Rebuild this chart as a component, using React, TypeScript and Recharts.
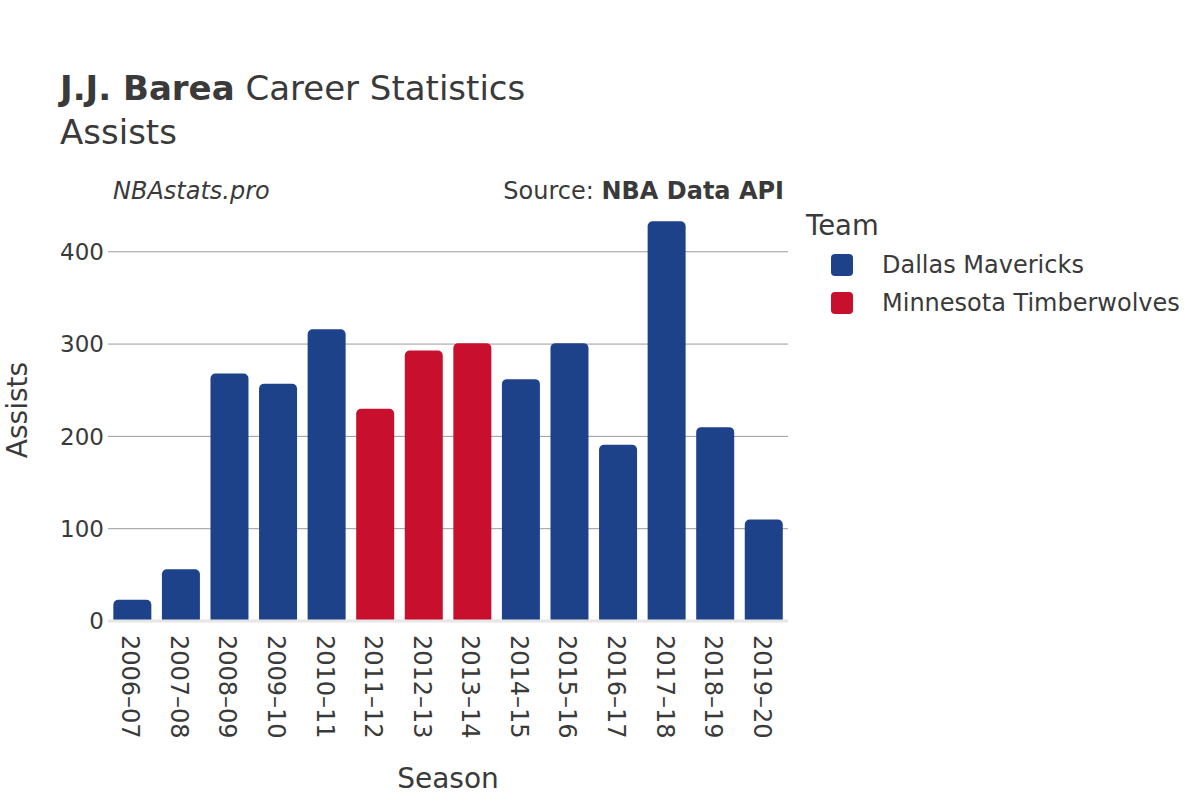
import { BarChart, Bar, XAxis, YAxis, CartesianGrid, ReferenceLine } from "recharts";

const seasons = [
  "2006–07", "2007–08", "2008–09", "2009–10", "2010–11", "2011–12", "2012–13",
  "2013–14", "2014–15", "2015–16", "2016–17", "2017–18", "2018–19", "2019–20",
];
const dallas = [23, 56, 268, 257, 316, null, null, null, 262, 301, 191, 433, 210, 110];
const minnesota = [null, null, null, null, null, 230, 293, 301, null, null, null, null, null, null];
const yTicks = [0, 100, 200, 300, 400];

const teams = [
  { key: "dallas", name: "Dallas Mavericks", color: "#1D428A" },
  { key: "minnesota", name: "Minnesota Timberwolves", color: "#C8102E" },
];

const data = seasons.map((s, i) => ({ season: s, dallas: dallas[i], minnesota: minnesota[i] }));

const FONT = "'DejaVu Sans', sans-serif";
const TEXT = "#3a3a3a";

function SeasonTick(props: any) {
  const { x, y, payload } = props;
  return (
    <text
      transform={`translate(${x - 2},${y}) rotate(90)`}
      textAnchor="start"
      dominantBaseline="central"
      fontSize={24}
      fontFamily={FONT}
      fill={TEXT}
    >
      {payload.value}
    </text>
  );
}

function TeamLegend() {
  return (
    <div style={{ position: "absolute", left: 806, top: 209, fontFamily: FONT, color: TEXT }}>
      <div style={{ fontSize: 27.5, marginBottom: 5, whiteSpace: "nowrap" }}>Team</div>
      {teams.map((t) => (
        <div key={t.key} style={{ display: "flex", alignItems: "center", height: 38, marginLeft: 25 }}>
          <span style={{ width: 22, height: 22, borderRadius: 4, background: t.color, display: "inline-block" }} />
          <span style={{ fontSize: 24, marginLeft: 29, whiteSpace: "nowrap" }}>{t.name}</span>
        </div>
      ))}
    </div>
  );
}

export default function App() {
  return (
    <div style={{ position: "absolute", left: 0, top: 0, width: 1200, height: 800, background: "#fff", fontFamily: FONT, color: TEXT }}>
      <div style={{ position: "absolute", left: 60, top: 68, fontSize: 34, whiteSpace: "nowrap" }}>
        <b>J.J. Barea</b> Career Statistics
      </div>
      <div style={{ position: "absolute", left: 60, top: 112, fontSize: 34 }}>Assists</div>
      <div style={{ position: "absolute", left: 113, top: 177, fontSize: 24, fontStyle: "italic" }}>NBAstats.pro</div>
      <div style={{ position: "absolute", right: 1200 - 784, top: 177, fontSize: 24, whiteSpace: "nowrap" }}>
        Source: <b>NBA Data API</b>
      </div>
      <div
        style={{
          position: "absolute",
          left: 17,
          top: 410,
          fontSize: 28,
          whiteSpace: "nowrap",
          transform: "translate(-50%, -50%) rotate(-90deg)",
        }}
      >
        Assists
      </div>
      <div style={{ position: "absolute", left: 448, top: 778, fontSize: 28, transform: "translate(-50%, -50%)" }}>
        Season
      </div>
      <BarChart
        width={1200}
        height={800}
        data={data}
        margin={{ top: 201, right: 412, left: 48, bottom: 49 }}
        barCategoryGap="11%"
      >
        <CartesianGrid vertical={false} horizontalValues={[100, 200, 300, 400]} stroke="#9a9a9a" />
        <XAxis
          dataKey="season"
          height={130}
          tick={<SeasonTick />}
          tickLine={false}
          axisLine={false}
          interval={0}
          tickMargin={8}
        />
        <YAxis
          width={60}
          domain={[0, 455]}
          ticks={yTicks}
          tickLine={false}
          axisLine={false}
          tick={{ fontSize: 23, fontFamily: FONT, fill: TEXT }}
          tickSize={2}
          tickMargin={2}
        />
        <ReferenceLine y={0} stroke="#e6e6e6" strokeWidth={3} />
        {teams.map((t) => (
          <Bar
            key={t.key}
            dataKey={t.key}
            name={t.name}
            stackId="a"
            fill={t.color}
            radius={[5, 5, 0, 0]}
            isAnimationActive={false}
          />
        ))}
      </BarChart>
      <TeamLegend />
    </div>
  );
}
